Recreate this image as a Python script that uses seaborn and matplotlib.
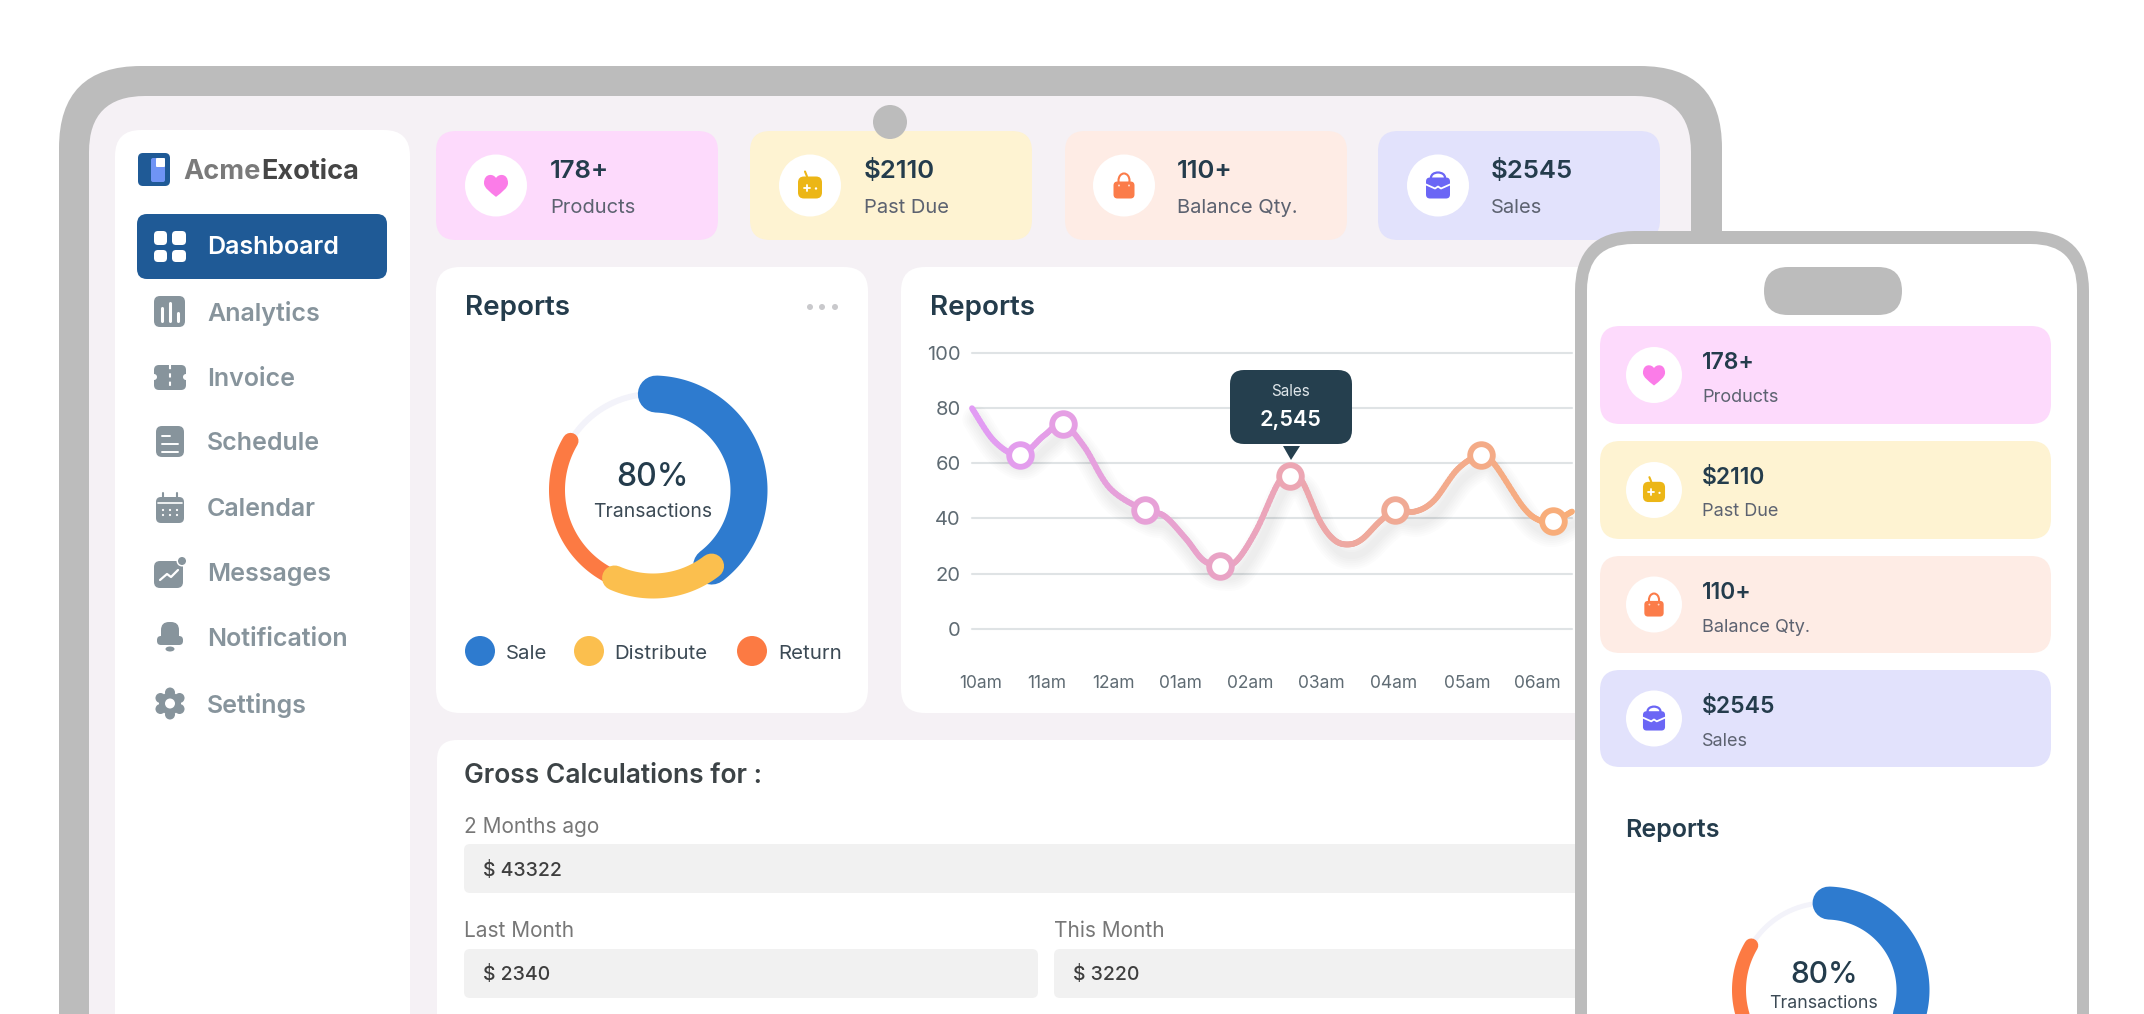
# Dashboard mockup: tablet and phone frames, sales line chart, donut

import numpy as np
import pandas as pd
import matplotlib
matplotlib.use("Agg")
import matplotlib.pyplot as plt
import matplotlib.patheffects as pe
from matplotlib.patches import Circle, Ellipse, FancyBboxPatch, PathPatch, Polygon
from matplotlib.path import Path
import seaborn as sns

# ---------- data ----------
menu_items = ["Analytics", "Invoice", "Schedule", "Calendar", "Messages", "Notification", "Settings"]

card_values = ["178+", "$2110", "110+", "$2545"]
card_labels = ["Products", "Past Due", "Balance Qty.", "Sales"]

donut_names = ["Sale", "Distribute", "Return"]
donut_values = [39, 17, 27]
donut_rest = 17
donut_center = "80%"
donut_caption = "Transactions"

hour_labels = ["10am", "11am", "12am", "01am", "02am", "03am", "04am", "05am", "06am"]
hour_pos = [1.5, 12.5, 23.5, 34.7, 46.3, 58.3, 70.3, 82.5, 94.3]
y_ticks = [0, 20, 40, 60, 80, 100]

# sales curve
curve_x = [0, 3.8, 8.0, 12.0, 15.1, 18.7, 23.0, 28.8, 32.0, 35.6, 38.5, 41.3, 44.0, 47.4, 51.0, 53.0,
           55.0, 58.0, 60.4, 62.7, 65.0, 68.0, 70.5, 73.8, 77.0, 81.0, 84.9, 87.2, 91.8, 94.5, 96.9, 100]
curve_y = [79.9, 67.8, 63.0, 70.0, 74.2, 66.0, 50.9, 42.9, 41.0, 32.8, 25.0, 22.9, 24.5, 35.8, 52.7, 55.5,
           53.5, 39.0, 32.2, 30.6, 32.5, 39.0, 42.9, 42.5, 46.5, 58.0, 63.0, 59.3, 44.3, 39.4, 39.0, 42.5]
marker_x = [8.0, 15.1, 28.8, 41.3, 53.0, 70.5, 84.9, 96.9]
marker_y = [63.0, 74.2, 42.9, 22.9, 55.5, 42.9, 63.0, 39.0]

# ---------- colours ----------
FRAME = "#bcbcbc"
SCREEN = "#f5f1f5"
NAVY = "#1f5a96"
INK = "#243c4c"
MENU = "#87949c"
SUB = "#5c6270"
CARD_BG = ["#fddafc", "#fef3d2", "#feece5", "#e2e2fc"]
ICON = ["#fb7ce8", "#ecb616", "#fb7c4a", "#6b66f5"]
DONUT = ["#2e7bcf", "#fbbf4e", "#fc7a43"]
TRACK = "#f3f3fa"
LINE_STOPS = ["#e29cf5", "#e9a3c8", "#efa99a", "#f9ad77"]

sns.set_theme(style="white")
plt.rcParams["font.family"] = ["Inter", "DejaVu Sans"]

W, H = 2144, 1014
fig = plt.figure(figsize=(W / 100, H / 100), dpi=100, facecolor="white")


def px_axes(zorder):
    ax = fig.add_axes([0, 0, 1, 1], zorder=zorder)
    ax.set_xlim(0, W)
    ax.set_ylim(H, 0)
    ax.set_axis_off()
    ax.patch.set_alpha(0)
    return ax


def box(ax, x0, y0, x1, y1, color, r=10, **kw):
    ax.add_patch(FancyBboxPatch((x0, y0), x1 - x0, y1 - y0, boxstyle=f"round,pad=0,rounding_size={r}",
                                fc=color, ec="none", **kw))


def label(ax, x, y, s, **kw):
    # Inter sits a little high with va=center
    ax.text(x, y + 3, s, va="center", **kw)


def smooth(xs, ys, steps=12):
    # Catmull-Rom through the read points, the original is a spline chart
    px = np.array([xs[0]] + list(xs) + [xs[-1]], dtype=float)
    py = np.array([ys[0]] + list(ys) + [ys[-1]], dtype=float)
    t = np.linspace(0, 1, steps, endpoint=False)[:, None]
    out_x, out_y = [], []
    for p, out in ((px, out_x), (py, out_y)):
        for i in range(1, len(p) - 2):
            a, b, c, d = p[i - 1], p[i], p[i + 1], p[i + 2]
            seg = 0.5 * (2 * b + (c - a) * t + (2 * a - 5 * b + 4 * c - d) * t ** 2 + (3 * b - a - 3 * c + d) * t ** 3)
            out.extend(seg.ravel())
        out.append(p[-1])
    return np.array(out_x), np.array(out_y)


def heart(ax, cx, cy, s, color):
    # s is half of the width
    verts = [(0, 0.62), (0.2, 1.0), (1.0, 1.05), (1.0, 0.2), (1.0, -0.2), (0.5, -0.55), (0, -0.95),
             (-0.5, -0.55), (-1.0, -0.2), (-1.0, 0.2), (-1.0, 1.05), (-0.2, 1.0), (0, 0.62)]
    codes = [Path.MOVETO] + [Path.CURVE4] * 12
    pts = [(cx + a * s, cy - b * s) for a, b in verts]
    ax.add_patch(PathPatch(Path(pts, codes), fc=color, ec="none"))


def pad_icon(ax, cx, cy, s, color):
    box(ax, cx - 12 * s, cy - 10 * s, cx + 12 * s, cy + 12 * s, color, r=6 * s)
    ax.plot([cx - 3 * s, cx - 5 * s], [cy - 10 * s, cy - 15 * s], color=color, lw=1.5)
    ax.plot([cx - 6 * s, cx], [cy + 1 * s, cy + 1 * s], color="white", lw=1.3)
    ax.plot([cx - 3 * s, cx - 3 * s], [cy - 2 * s, cy + 4 * s], color="white", lw=1.3)
    ax.add_patch(Circle((cx + 6 * s, cy + 2 * s), 1.2 * s, fc="white", ec="none"))


def bag_icon(ax, cx, cy, s, color):
    ax.add_patch(Ellipse((cx, cy - 6 * s), 11 * s, 14 * s, fc="none", ec=color, lw=1.5))
    box(ax, cx - 10.5 * s, cy - 5 * s, cx + 10.5 * s, cy + 12 * s, color, r=4 * s)
    ax.add_patch(Circle((cx - 5 * s, cy - 1 * s), 1 * s, fc="white", ec="none", alpha=0.7))
    ax.add_patch(Circle((cx + 5 * s, cy - 1 * s), 1 * s, fc="white", ec="none", alpha=0.7))


def case_icon(ax, cx, cy, s, color):
    ax.add_patch(Ellipse((cx, cy - 9 * s), 14 * s, 10 * s, fc="none", ec=color, lw=1.6))
    box(ax, cx - 12 * s, cy - 9 * s, cx + 12 * s, cy + 12 * s, color, r=4 * s)
    ax.plot([cx - 12 * s, cx - 3 * s, cx, cx + 3 * s, cx + 12 * s],
            [cy - 2 * s, cy + 2 * s, cy, cy + 2 * s, cy - 2 * s], color="white", lw=1.3)


ICON_FUNCS = [heart, pad_icon, bag_icon, case_icon]


def stat_card(ax, idx, x0, y0, x1, y1, cx, r, tx, ty0, ty1, fs0, fs1, icon_scale, corner):
    cy = (y0 + y1) / 2
    box(ax, x0, y0, x1, y1, CARD_BG[idx], r=corner)
    ax.add_patch(Circle((cx, cy), r, fc="white", ec="none"))
    if idx == 0:
        heart(ax, cx, cy, 12 * icon_scale, ICON[0])
    else:
        ICON_FUNCS[idx](ax, cx, cy + 1, icon_scale, ICON[idx])
    label(ax, tx, ty0, card_values[idx], fontsize=fs0, fontweight="semibold", color=INK)
    label(ax, tx, ty1, card_labels[idx], fontsize=fs1, color=SUB)


# ---------- tablet ----------
bg = px_axes(1)
box(bg, 59, 66, 1722, 1100, FRAME, r=82)
box(bg, 89, 96, 1691, 1100, SCREEN, r=56)
box(bg, 115, 130, 410, 1100, "white", r=26)

# logo
box(bg, 138, 153, 170, 186, NAVY, r=5)
box(bg, 151, 158, 165, 182, "#6f94f5", r=2)
box(bg, 156, 158, 165, 167, "white", r=1)
label(bg, 183, 169, "Acme", fontsize=19.5, fontweight="bold", color="#7a7a7a")
label(bg, 261, 169, "Exotica", fontsize=19.5, fontweight="bold", color="#454545")

# active menu entry
box(bg, 137, 214, 387, 279, NAVY, r=10)
for x0, x1 in [(154, 167), (172, 186)]:
    for y0, y1 in [(231, 245), (250, 262)]:
        box(bg, x0, y0, x1, y1, "white", r=4)
label(bg, 207, 245, "Dashboard", fontsize=18, fontweight="semibold", color="white")

menu_y = [311, 376, 441, 507, 572, 637, 702]
for name, y in zip(menu_items, menu_y):
    label(bg, 207, y, name, fontsize=18, fontweight="semibold", color=MENU)

# menu icons
box(bg, 154, 296, 185, 327, MENU, r=6)
for x, top_y in [(162, 308), (170, 303), (178, 313)]:
    bg.plot([x, x], [top_y, 321], color="white", lw=2.2)
box(bg, 154, 365, 186, 390, MENU, r=5)
bg.add_patch(Circle((154, 377), 3, fc="white", ec="none"))
bg.add_patch(Circle((186, 377), 3, fc="white", ec="none"))
bg.plot([170, 170], [365, 390], color="white", lw=1.5, ls=(0, (2, 2)))
box(bg, 156, 426, 184, 457, MENU, r=6)
for y, xe in [(436, 170), (444, 178), (452, 178)]:
    bg.plot([162, xe], [y, y], color="white", lw=1.4)
box(bg, 156, 497, 184, 523, MENU, r=5)
bg.plot([158, 182], [503, 503], color="white", lw=1.2)
for x in [163, 177]:
    bg.plot([x, x], [493, 499], color=MENU, lw=1.5)
for x in [163, 170, 177]:
    for y in [510, 515]:
        bg.add_patch(Circle((x, y), 1.1, fc="white", ec="none"))
box(bg, 154, 561, 183, 588, MENU, r=6)
bg.plot([160, 167, 171, 178], [580, 574, 577, 570], color="white", lw=1.6)
bg.add_patch(Circle((182, 561), 5.5, fc="white", ec="none"))
bg.add_patch(Circle((182, 561), 4, fc=MENU, ec="none"))
box(bg, 161, 622, 179, 645, MENU, r=8)
box(bg, 157, 636, 183, 645, MENU, r=4)
bg.add_patch(Ellipse((170, 649), 9, 5, fc=MENU, ec="none"))
for ang in np.radians(np.arange(0, 360, 60) + 30):
    bg.add_patch(Circle((170 + 11 * np.cos(ang), 703.5 + 11 * np.sin(ang)), 5, fc=MENU, ec="none"))
bg.add_patch(Circle((170, 703.5), 11, fc=MENU, ec="none"))
bg.add_patch(Circle((170, 703.5), 5, fc="white", ec="none"))

# stat cards
card_x = [(436, 718), (750, 1032), (1065, 1347), (1378, 1660)]
circle_x = [496, 810, 1124, 1438]
text_x = [550, 864, 1177, 1491]
for i, (x0, x1) in enumerate(card_x):
    stat_card(bg, i, x0, 131, x1, 240, circle_x[i], 31, text_x[i], 168, 205, 18.5, 14.5, 1.0, 20)

# camera
bg.add_patch(Circle((890, 122), 17, fc=FRAME, ec="none", zorder=5))

# report panels
box(bg, 436, 267, 868, 713, "white", r=24)
box(bg, 901, 267, 1660, 713, "white", r=24)
label(bg, 465, 305, "Reports", fontsize=20, fontweight="semibold", color=INK)
label(bg, 930, 305, "Reports", fontsize=20, fontweight="semibold", color=INK)
for x in [810, 822, 835]:
    bg.add_patch(Circle((x, 307), 3, fc="#c9c9cc", ec="none"))

# donut legend
legend_dot = [480, 589, 752]
legend_txt = [506, 614, 778]
for name, color, xd, xt in zip(donut_names, DONUT, legend_dot, legend_txt):
    bg.add_patch(Circle((xd, 651), 15, fc=color, ec="none"))
    label(bg, xt, 651, name, fontsize=14.7, color="#3c4a55")

# gross calculations panel
box(bg, 437, 740, 1660, 1100, "white", r=20)
label(bg, 464, 773, "Gross Calculations for :", fontsize=19, fontweight="semibold", color="#3c4346")
label(bg, 464, 824, "2 Months ago", fontsize=15, color="#777777")
box(bg, 464, 844, 1660, 893, "#f1f1f1", r=6)
label(bg, 483, 867, "$ 43322", fontsize=14, fontweight="medium", color="#3e3e3e")
label(bg, 464, 928, "Last Month", fontsize=15, color="#777777")
label(bg, 1054, 928, "This Month", fontsize=15, color="#777777")
box(bg, 464, 949, 1038, 998, "#f1f1f1", r=6)
box(bg, 1054, 949, 1660, 998, "#f1f1f1", r=6)
label(bg, 483, 972, "$ 2340", fontsize=14, fontweight="medium", color="#3e3e3e")
label(bg, 1073, 972, "$ 3220", fontsize=14, fontweight="medium", color="#3e3e3e")


# ---------- donut ----------
def donut(cx, cy, r_mid, widths, track_w, zorder):
    R = 130
    ax = fig.add_axes([(cx - R) / W, 1 - (cy + R) / H, 2 * R / W, 2 * R / H],
                      projection="polar", zorder=zorder)
    ax.set_theta_zero_location("N")
    ax.set_theta_direction(-1)
    ax.patch.set_alpha(0)
    start = 2
    edges = start + np.cumsum([0] + donut_values + [donut_rest]) * 3.6
    # return goes first so sale and distribute sit over its end
    for i, width, color in [(3, track_w, TRACK), (2, widths[2], DONUT[2]),
                            (0, widths[0], DONUT[0]), (1, widths[1], DONUT[1])]:
        theta = np.radians(np.linspace(edges[i], edges[i + 1], 120))
        sns.lineplot(x=theta, y=np.full(theta.size, r_mid), color=color, lw=width * 0.72, ax=ax,
                     estimator=None, sort=False, solid_capstyle="round")
    ax.set_ylim(0, R)
    ax.set_axis_off()
    return ax


donut(653, 490, 96, [37, 25, 16], 6, 2)
donut(1826, 990, 87, [33, 22, 14], 5, 5)
bg.text(653, 478, donut_center, fontsize=23, fontweight="medium", color=INK, ha="center", va="center")
bg.text(653, 512, donut_caption, fontsize=14, color="#3c4a55", ha="center", va="center")

# ---------- sales chart ----------
chart = fig.add_axes([972 / W, 1 - 629 / H, 600 / W, (629 - 352.7) / H], zorder=3)
chart.patch.set_alpha(0)

line_x, line_y = smooth(curve_x, curve_y)
n_seg = len(line_x) - 1
seg_colors = sns.blend_palette(LINE_STOPS, n_colors=n_seg)
seg_df = pd.DataFrame({
    "x": [line_x[i + k] for i in range(n_seg) for k in (0, 1)],
    "y": [line_y[i + k] for i in range(n_seg) for k in (0, 1)],
    "seg": [i for i in range(n_seg) for k in (0, 1)],
})

# soft shadow under the line
shadow_fx = [pe.Stroke(offset=(3, -8), linewidth=w, foreground="#000000", alpha=0.011)
             for w in (20, 17, 14, 11, 8, 5)]
sns.lineplot(x=line_x, y=line_y, color="#888888", lw=4, ax=chart, estimator=None, sort=False,
             clip_on=False, path_effects=shadow_fx, zorder=3)

sns.lineplot(data=seg_df, x="x", y="y", hue="seg", palette=dict(enumerate(seg_colors)), lw=4.2, ax=chart,
             estimator=None, sort=False, legend=False, clip_on=False, solid_capstyle="round", zorder=4)

for mx, my in zip(marker_x, marker_y):
    ring = seg_colors[min(int(np.searchsorted(line_x, mx)), n_seg - 1)]
    sns.scatterplot(x=[mx], y=[my], color="white", edgecolor=ring, linewidth=4.2, s=265, ax=chart,
                    clip_on=False, zorder=5, legend=False)

chart.set_xlim(0, 100)
chart.set_ylim(0, 100)
chart.set_xticks(hour_pos, hour_labels)
chart.set_yticks(y_ticks)
chart.set_xlabel("")
chart.set_ylabel("")
chart.tick_params(axis="x", length=0, pad=33, labelsize=12.5, labelcolor="#5f6b73")
chart.tick_params(axis="y", length=0, pad=8, labelsize=14.5, labelcolor="#5f6b73")
chart.grid(axis="y", color="#dfe3e5", lw=1.5)
chart.set_axisbelow(True)
for line in chart.get_ygridlines():
    line.set_clip_on(False)
sns.despine(ax=chart, left=True, bottom=True)

# ---------- overlay: tooltip and phone ----------
top = px_axes(4)
box(top, 1230, 370, 1352, 444, "#253f4e", r=14)
top.add_patch(Polygon([(1283, 446), (1300, 446), (1291, 460)], closed=True, fc="#253f4e", ec="none"))
top.text(1291, 391, "Sales", fontsize=11, color="#dfe6ea", ha="center", va="center")
top.text(1291, 420, "2,545", fontsize=15.5, fontweight="semibold", color="white", ha="center", va="center")

box(top, 1575, 231, 2089, 1100, FRAME, r=60)
box(top, 1587, 244, 2077, 1100, "white", r=46)
box(top, 1764, 267, 1902, 315, FRAME, r=24)

phone_y = [(326, 424), (441, 539), (556, 653), (670, 767)]
for i, (y0, y1) in enumerate(phone_y):
    stat_card(top, i, 1600, y0, 2051, y1, 1654, 28, 1702, y0 + 34, y0 + 68, 16.5, 13, 0.92, 20)

label(top, 1625, 827, "Reports", fontsize=18, fontweight="semibold", color=INK)

# phone donut texts sit above the donut axes
front = px_axes(6)
front.text(1824, 975, donut_center, fontsize=21.5, fontweight="medium", color=INK, ha="center", va="center")
front.text(1823, 1004, donut_caption, fontsize=12.8, color="#3c4a55", ha="center", va="center")

fig.savefig("out.png", dpi=100)
